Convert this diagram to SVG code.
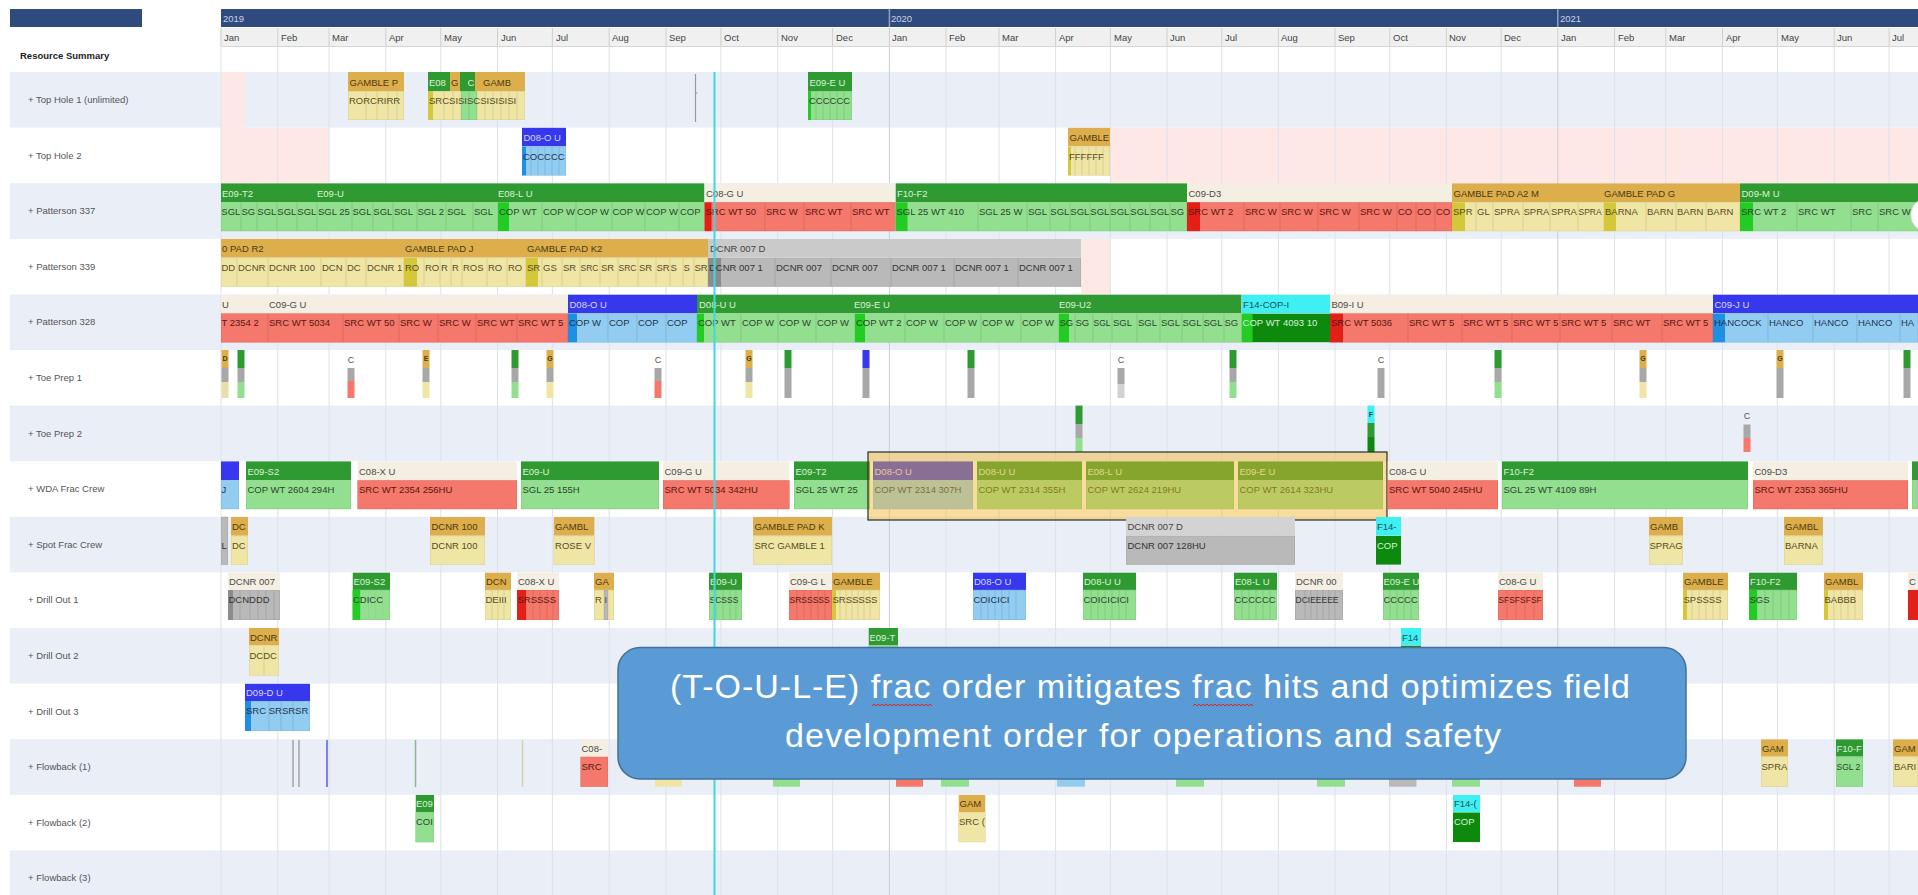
<svg xmlns="http://www.w3.org/2000/svg" width="1918" height="895" viewBox="0 0 1918 895">
<style>
text{font-family:"Liberation Sans",Arial,sans-serif}
.c text{font-size:9.5px}
.c text.sm{font-size:8.5px}
.c rect{stroke-width:1}
.dg rect{fill:#2f9a32}.dg text{fill:#dcf2d4}
.lg rect{fill:#93df90;stroke:#80c97d}.lg text{fill:#2a452a}
.bb rect{fill:#f4efe2}.bb text{fill:#4a4a4a}
.sa rect{fill:#f4786b;stroke:#df6a5e}.sa text{fill:#5a170f}
.or rect{fill:#dcae4c}.or text{fill:#4c390e}
.py rect{fill:#efe6a6;stroke:#d9cf90}.py text{fill:#574b1e}
.bl rect{fill:#3737ee}.bl text{fill:#d6dbff}
.lb rect{fill:#92ccf1;stroke:#7cb7de}.lb text{fill:#1d3450}
.gy rect{fill:#cacaca}.gy text{fill:#444}
.gd rect{fill:#b9b9b9;stroke:#a5a5a5}.gd text{fill:#333}
.cy rect{fill:#3ff0f3}.cy text{fill:#10505a}
.dk rect{fill:#0d890d}.dk text{fill:#d6f4d6}
.c rect.s{stroke:none}
.c .sg{fill:#22cc22}.c .sr{fill:#e32018}.c .so{fill:#d4c83a}.c .sb{fill:#1e8fe2}.c .sk{fill:#8c8c8c}
.lbl{font-size:9.5px;fill:#555}
.mo{font-size:9.5px;fill:#444}
.yr{font-size:9.5px;fill:#c9d3ea}
.mk{font-size:7px;font-weight:bold;fill:#4c390e;text-anchor:middle}
.mc{font-size:9px;fill:#555;text-anchor:middle}
.band{fill:#e9eef7}
.pink{fill:#fde8e5}
.gray{fill:#a8a8a8}
</style>
<rect width="1918" height="895" fill="#fff"/>
<g id="row-bands">
<rect class="band" x="10" y="72" width="1908" height="55.6"/>
<rect class="band" x="10" y="183.2" width="1908" height="55.6"/>
<rect class="band" x="10" y="294.4" width="1908" height="55.6"/>
<rect class="band" x="10" y="405.6" width="1908" height="55.6"/>
<rect class="band" x="10" y="516.8" width="1908" height="55.6"/>
<rect class="band" x="10" y="628" width="1908" height="55.6"/>
<rect class="band" x="10" y="739.2" width="1908" height="55.6"/>
<rect class="band" x="10" y="850.4" width="1908" height="44.6"/>
<rect class="pink" x="221" y="72" width="24" height="55.6"/>
<rect class="pink" x="221" y="127.6" width="108" height="55.6"/>
<rect class="pink" x="1110" y="127.6" width="808" height="55.6"/>
<rect class="pink" x="1081" y="238.8" width="29" height="55.6"/>
</g>
<g id="grid">
<path d="M221 28V895M277.8 28V895M329.1 28V895M385.8 28V895M440.8 28V895M497.5 28V895M552.4 28V895M609.2 28V895M666 28V895M720.9 28V895M777.7 28V895M832.6 28V895M946 28V895M999 28V895M1055.6 28V895M1110.4 28V895M1167 28V895M1221.8 28V895M1278.4 28V895M1335 28V895M1389.8 28V895M1446.4 28V895M1501.2 28V895M1614.6 28V895M1665.8 28V895M1722.5 28V895M1777.4 28V895M1834.2 28V895M1889.1 28V895" stroke="#dde2ea" stroke-width="1" fill="none"/>
<path d="M889.4 28V895M1557.8 28V895" stroke="#c9ced8" stroke-width="1" fill="none"/>
</g>
<g id="header">
<rect x="10" y="9" width="132" height="18" fill="#2f4a7c"/>
<rect x="221" y="9" width="1697" height="18" fill="#2f4a7c"/>
<path d="M889.4 9V27M1557.8 9V27" stroke="#8ea1c6" stroke-width="1.5"/>
<text class="yr" x="223" y="22">2019</text>
<text class="yr" x="891" y="22">2020</text>
<text class="yr" x="1560" y="22">2021</text>
<rect x="221" y="28" width="1697" height="18" fill="#f0f0f0"/>
<path d="M221 46.5H1918" stroke="#d6d6d6"/>
<path d="M221 28V46M277.8 28V46M329.1 28V46M385.8 28V46M440.8 28V46M497.5 28V46M552.4 28V46M609.2 28V46M666 28V46M720.9 28V46M777.7 28V46M832.6 28V46M889.4 28V46M946 28V46M999 28V46M1055.6 28V46M1110.4 28V46M1167 28V46M1221.8 28V46M1278.4 28V46M1335 28V46M1389.8 28V46M1446.4 28V46M1501.2 28V46M1557.8 28V46M1614.6 28V46M1665.8 28V46M1722.5 28V46M1777.4 28V46M1834.2 28V46M1889.1 28V46" stroke="#cfcfcf"/>
<text class="mo" x="224" y="41">Jan</text><text class="mo" x="281" y="41">Feb</text><text class="mo" x="332" y="41">Mar</text><text class="mo" x="389" y="41">Apr</text><text class="mo" x="444" y="41">May</text><text class="mo" x="501" y="41">Jun</text><text class="mo" x="556" y="41">Jul</text><text class="mo" x="612" y="41">Aug</text><text class="mo" x="669" y="41">Sep</text><text class="mo" x="724" y="41">Oct</text><text class="mo" x="781" y="41">Nov</text><text class="mo" x="836" y="41">Dec</text>
<text class="mo" x="892" y="41">Jan</text><text class="mo" x="949" y="41">Feb</text><text class="mo" x="1002" y="41">Mar</text><text class="mo" x="1059" y="41">Apr</text><text class="mo" x="1114" y="41">May</text><text class="mo" x="1170" y="41">Jun</text><text class="mo" x="1225" y="41">Jul</text><text class="mo" x="1281" y="41">Aug</text><text class="mo" x="1338" y="41">Sep</text><text class="mo" x="1393" y="41">Oct</text><text class="mo" x="1449" y="41">Nov</text><text class="mo" x="1504" y="41">Dec</text>
<text class="mo" x="1561" y="41">Jan</text><text class="mo" x="1618" y="41">Feb</text><text class="mo" x="1669" y="41">Mar</text><text class="mo" x="1726" y="41">Apr</text><text class="mo" x="1781" y="41">May</text><text class="mo" x="1837" y="41">Jun</text><text class="mo" x="1892" y="41">Jul</text>
<text x="20" y="59" font-size="9.5" font-weight="bold" fill="#222">Resource Summary</text>
</g>
<g id="row-labels">
<text class="lbl" x="28" y="103">+ Top Hole 1 (unlimited)</text>
<text class="lbl" x="28" y="158.6">+ Top Hole 2</text>
<text class="lbl" x="28" y="214.2">+ Patterson 337</text>
<text class="lbl" x="28" y="269.8">+ Patterson 339</text>
<text class="lbl" x="28" y="325.4">+ Patterson 328</text>
<text class="lbl" x="28" y="381">+ Toe Prep 1</text>
<text class="lbl" x="28" y="436.6">+ Toe Prep 2</text>
<text class="lbl" x="28" y="492.2">+ WDA Frac Crew</text>
<text class="lbl" x="28" y="547.8">+ Spot Frac Crew</text>
<text class="lbl" x="28" y="603.4">+ Drill Out 1</text>
<text class="lbl" x="28" y="659">+ Drill Out 2</text>
<text class="lbl" x="28" y="714.6">+ Drill Out 3</text>
<text class="lbl" x="28" y="770.2">+ Flowback (1)</text>
<text class="lbl" x="28" y="825.8">+ Flowback (2)</text>
<text class="lbl" x="28" y="881.4">+ Flowback (3)</text>
</g>

<g id="top-hole-1">
<g id="th1-gamble-p">
<svg class="c or" x="348" y="72" width="56" height="19"><rect width="100%" height="100%"/><text x="1.5" y="13.5">GAMBLE P</text></svg>
<svg class="c py" x="348" y="91" width="18" height="29"><rect width="100%" height="100%"/></svg>
<svg class="c py" x="366" y="91" width="11" height="29"><rect width="100%" height="100%"/></svg>
<svg class="c py" x="377" y="91" width="11" height="29"><rect width="100%" height="100%"/></svg>
<svg class="c py" x="388" y="91" width="9" height="29"><rect width="100%" height="100%"/></svg>
<svg class="c py" x="397" y="91" width="7" height="29"><rect width="100%" height="100%"/></svg>
<svg class="c py" x="348" y="91" width="56" height="29"><text x="1" y="13">RORCRIRR</text></svg>
</g>
<g id="th1-group">
<svg class="c dg" x="428" y="72" width="22" height="19"><rect width="100%" height="100%"/><text x="1" y="13.5">E08</text></svg>
<svg class="c or" x="450" y="72" width="10" height="19"><rect width="100%" height="100%"/><text x="1" y="13.5">G</text></svg>
<svg class="c dg" x="460" y="72" width="7" height="19"><rect width="100%" height="100%"/></svg>
<svg class="c dg" x="467" y="72" width="8" height="19"><rect width="100%" height="100%"/><text x="0.5" y="13.5">C</text></svg>
<svg class="c or" x="475" y="72" width="7" height="19"><rect width="100%" height="100%"/></svg>
<svg class="c or" x="482" y="72" width="43" height="19"><rect width="100%" height="100%"/><text x="1" y="13.5">GAMB</text></svg>
<svg class="c py" x="428" y="91" width="16" height="29"><rect width="100%" height="100%"/><rect class="s so" width="5" height="100%"/></svg>
<svg class="c py" x="444" y="91" width="9" height="29"><rect width="100%" height="100%"/></svg>
<svg class="c py" x="453" y="91" width="8" height="29"><rect width="100%" height="100%"/></svg>
<svg class="c lg" x="461" y="91" width="8" height="29"><rect width="100%" height="100%"/></svg>
<svg class="c lg" x="469" y="91" width="8" height="29"><rect width="100%" height="100%"/></svg>
<svg class="c py" x="477" y="91" width="8" height="29"><rect width="100%" height="100%"/></svg>
<svg class="c py" x="485" y="91" width="8" height="29"><rect width="100%" height="100%"/></svg>
<svg class="c py" x="493" y="91" width="8" height="29"><rect width="100%" height="100%"/></svg>
<svg class="c py" x="501" y="91" width="8" height="29"><rect width="100%" height="100%"/></svg>
<svg class="c py" x="509" y="91" width="8" height="29"><rect width="100%" height="100%"/></svg>
<svg class="c py" x="517" y="91" width="8" height="29"><rect width="100%" height="100%"/></svg>
<svg class="c py" x="428" y="91" width="97" height="29"><text x="1" y="13">SRCSISISCSISISISI</text></svg>
</g>
<path d="M695.5 74V122M695.5 93h2" stroke="#9a9a9a" stroke-width="1.2"/>
<g id="th1-e09-e-u">
<svg class="c dg" x="808" y="72" width="44" height="19"><rect width="100%" height="100%"/><text x="1.5" y="13.5">E09-E U</text></svg>
<svg class="c lg" x="808" y="91" width="8" height="29"><rect width="100%" height="100%"/><rect class="s sg" width="3" height="100%"/></svg>
<svg class="c lg" x="816" y="91" width="7" height="29"><rect width="100%" height="100%"/></svg>
<svg class="c lg" x="823" y="91" width="7" height="29"><rect width="100%" height="100%"/></svg>
<svg class="c lg" x="830" y="91" width="7" height="29"><rect width="100%" height="100%"/></svg>
<svg class="c lg" x="837" y="91" width="7" height="29"><rect width="100%" height="100%"/></svg>
<svg class="c lg" x="844" y="91" width="8" height="29"><rect width="100%" height="100%"/></svg>
<svg class="c lg" x="808" y="91" width="44" height="29"><text x="1" y="13">CCCCCC</text></svg>
</g>
</g>

<g id="top-hole-2">
<g id="th2-d08-o-u">
<svg class="c bl" x="522" y="127.6" width="44" height="19"><rect width="100%" height="100%"/><text x="1.5" y="13.5">D08-O U</text></svg>
<svg class="c lb" x="522" y="146.6" width="9" height="29"><rect width="100%" height="100%"/><rect class="s sb" width="4" height="100%"/></svg>
<svg class="c lb" x="531" y="146.6" width="7" height="29"><rect width="100%" height="100%"/></svg>
<svg class="c lb" x="538" y="146.6" width="7" height="29"><rect width="100%" height="100%"/></svg>
<svg class="c lb" x="545" y="146.6" width="7" height="29"><rect width="100%" height="100%"/></svg>
<svg class="c lb" x="552" y="146.6" width="7" height="29"><rect width="100%" height="100%"/></svg>
<svg class="c lb" x="559" y="146.6" width="7" height="29"><rect width="100%" height="100%"/></svg>
<svg class="c lb" x="522" y="146.6" width="44" height="29"><text x="1" y="13">COCCCC</text></svg>
</g>
<g id="th2-gamble">
<svg class="c or" x="1068" y="127.6" width="42" height="19"><rect width="100%" height="100%"/><text x="1.5" y="13.5">GAMBLE</text></svg>
<svg class="c py" x="1068" y="146.6" width="7" height="29"><rect width="100%" height="100%"/><rect class="s so" width="3" height="100%"/></svg>
<svg class="c py" x="1075" y="146.6" width="7" height="29"><rect width="100%" height="100%"/></svg>
<svg class="c py" x="1082" y="146.6" width="7" height="29"><rect width="100%" height="100%"/></svg>
<svg class="c py" x="1089" y="146.6" width="7" height="29"><rect width="100%" height="100%"/></svg>
<svg class="c py" x="1096" y="146.6" width="7" height="29"><rect width="100%" height="100%"/></svg>
<svg class="c py" x="1103" y="146.6" width="7" height="29"><rect width="100%" height="100%"/></svg>
<svg class="c py" x="1068" y="146.6" width="42" height="29"><text x="1" y="13">FFFFFF</text></svg>
</g>
</g>

<g id="patterson-337">
<svg class="c dg" x="221" y="183.2" width="483.5" height="19"><rect width="100%" height="100%"/><text x="1" y="13.5">E09-T2</text><text x="96" y="13.5">E09-U</text><text x="277" y="13.5">E08-L U</text></svg>
<svg class="c bb" x="704.5" y="183.2" width="191" height="19"><rect width="100%" height="100%"/><text x="1.5" y="13.5">C08-G U</text></svg>
<svg class="c dg" x="895.5" y="183.2" width="291.5" height="19"><rect width="100%" height="100%"/><text x="1.5" y="13.5">F10-F2</text></svg>
<svg class="c bb" x="1187" y="183.2" width="265" height="19"><rect width="100%" height="100%"/><text x="1.5" y="13.5">C09-D3</text></svg>
<svg class="c or" x="1452" y="183.2" width="288" height="19"><rect width="100%" height="100%"/><text x="1.5" y="13.5">GAMBLE PAD A2 M</text><text x="152" y="13.5">GAMBLE PAD G</text></svg>
<svg class="c dg" x="1740" y="183.2" width="178" height="19"><rect width="100%" height="100%"/><text x="1.5" y="13.5">D09-M U</text></svg>
<svg class="c lg" x="221" y="202.2" width="20" height="29"><rect width="100%" height="100%"/><text x="0.3" y="13">SGL</text></svg>
<svg class="c lg" x="241" y="202.2" width="16" height="29"><rect width="100%" height="100%"/><text x="0.5" y="13">SG</text></svg>
<svg class="c lg" x="257" y="202.2" width="20" height="29"><rect width="100%" height="100%"/><text x="0.3" y="13">SGL</text></svg>
<svg class="c lg" x="277" y="202.2" width="20" height="29"><rect width="100%" height="100%"/><text x="0.3" y="13">SGL</text></svg>
<svg class="c lg" x="297" y="202.2" width="20" height="29"><rect width="100%" height="100%"/><text x="0.3" y="13">SGL</text></svg>
<svg class="c lg" x="317" y="202.2" width="35" height="29"><rect width="100%" height="100%"/><text x="1" y="13">SGL 25</text></svg>
<svg class="c lg" x="352" y="202.2" width="21" height="29"><rect width="100%" height="100%"/><text x="0.5" y="13">SGL</text></svg>
<svg class="c lg" x="373" y="202.2" width="20" height="29"><rect width="100%" height="100%"/><text x="0.3" y="13">SGL</text></svg>
<svg class="c lg" x="393" y="202.2" width="24" height="29"><rect width="100%" height="100%"/><text x="1" y="13">SGL</text></svg>
<svg class="c lg" x="417" y="202.2" width="29" height="29"><rect width="100%" height="100%"/><text x="0.5" y="13">SGL 2</text></svg>
<svg class="c lg" x="446" y="202.2" width="27" height="29"><rect width="100%" height="100%"/><text x="1" y="13">SGL</text></svg>
<svg class="c lg" x="473" y="202.2" width="25" height="29"><rect width="100%" height="100%"/><text x="1" y="13">SGL</text></svg>
<svg class="c lg" x="498" y="202.2" width="44" height="29"><rect width="100%" height="100%"/><rect class="s sg" width="11" height="100%"/><text x="1" y="13">COP WT</text></svg>
<svg class="c lg" x="542" y="202.2" width="34" height="29"><rect width="100%" height="100%"/><text x="1" y="13">COP W</text></svg>
<svg class="c lg" x="576" y="202.2" width="36" height="29"><rect width="100%" height="100%"/><text x="1" y="13">COP W</text></svg>
<svg class="c lg" x="612" y="202.2" width="33" height="29"><rect width="100%" height="100%"/><text x="0.5" y="13">COP W</text></svg>
<svg class="c lg" x="645" y="202.2" width="34" height="29"><rect width="100%" height="100%"/><text x="1" y="13">COP W</text></svg>
<svg class="c lg" x="679" y="202.2" width="25.5" height="29"><rect width="100%" height="100%"/><text x="1" y="13">COP</text></svg>
<svg class="c sa" x="704.5" y="202.2" width="60.5" height="29"><rect width="100%" height="100%"/><rect class="s sr" width="7" height="100%"/><text x="1" y="13">SRC WT 50</text></svg>
<svg class="c sa" x="765" y="202.2" width="39" height="29"><rect width="100%" height="100%"/><text x="1" y="13">SRC W</text></svg>
<svg class="c sa" x="804" y="202.2" width="47" height="29"><rect width="100%" height="100%"/><text x="1" y="13">SRC WT</text></svg>
<svg class="c sa" x="851" y="202.2" width="44.5" height="29"><rect width="100%" height="100%"/><text x="1" y="13">SRC WT</text></svg>
<svg class="c lg" x="895.5" y="202.2" width="82.5" height="29"><rect width="100%" height="100%"/><rect class="s sg" width="12" height="100%"/><text x="1" y="13">SGL 25 WT 410</text></svg>
<svg class="c lg" x="978" y="202.2" width="49" height="29"><rect width="100%" height="100%"/><text x="1" y="13">SGL 25 W</text></svg>
<svg class="c lg" x="1027" y="202.2" width="23" height="29"><rect width="100%" height="100%"/><text x="1" y="13">SGL</text></svg>
<svg class="c lg" x="1050" y="202.2" width="20" height="29"><rect width="100%" height="100%"/><text x="0.3" y="13">SGL</text></svg>
<svg class="c lg" x="1070" y="202.2" width="20" height="29"><rect width="100%" height="100%"/><text x="0.3" y="13">SGL</text></svg>
<svg class="c lg" x="1090" y="202.2" width="20" height="29"><rect width="100%" height="100%"/><text x="0.3" y="13">SGL</text></svg>
<svg class="c lg" x="1110" y="202.2" width="20" height="29"><rect width="100%" height="100%"/><text x="0.3" y="13">SGL</text></svg>
<svg class="c lg" x="1130" y="202.2" width="20" height="29"><rect width="100%" height="100%"/><text x="0.3" y="13">SGL</text></svg>
<svg class="c lg" x="1150" y="202.2" width="20" height="29"><rect width="100%" height="100%"/><text x="0.3" y="13">SGL</text></svg>
<svg class="c lg" x="1170" y="202.2" width="17" height="29"><rect width="100%" height="100%"/><text x="0.5" y="13">SG</text></svg>
<svg class="c sa" x="1187" y="202.2" width="57" height="29"><rect width="100%" height="100%"/><rect class="s sr" width="13" height="100%"/><text x="1" y="13">SRC WT 2</text></svg>
<svg class="c sa" x="1244" y="202.2" width="36" height="29"><rect width="100%" height="100%"/><text x="1" y="13">SRC W</text></svg>
<svg class="c sa" x="1280" y="202.2" width="38" height="29"><rect width="100%" height="100%"/><text x="1" y="13">SRC W</text></svg>
<svg class="c sa" x="1318" y="202.2" width="41" height="29"><rect width="100%" height="100%"/><text x="1" y="13">SRC W</text></svg>
<svg class="c sa" x="1359" y="202.2" width="38" height="29"><rect width="100%" height="100%"/><text x="1" y="13">SRC W</text></svg>
<svg class="c sa" x="1397" y="202.2" width="19" height="29"><rect width="100%" height="100%"/><text x="1" y="13">CO</text></svg>
<svg class="c sa" x="1416" y="202.2" width="19" height="29"><rect width="100%" height="100%"/><text x="1" y="13">CO</text></svg>
<svg class="c sa" x="1435" y="202.2" width="17" height="29"><rect width="100%" height="100%"/><text x="1" y="13">CO</text></svg>
<svg class="c py" x="1452" y="202.2" width="24" height="29"><rect width="100%" height="100%"/><rect class="s so" width="13" height="100%"/><text x="1" y="13">SPR</text></svg>
<svg class="c py" x="1476" y="202.2" width="17" height="29"><rect width="100%" height="100%"/><text x="1" y="13">GL</text></svg>
<svg class="c py" x="1493" y="202.2" width="30" height="29"><rect width="100%" height="100%"/><text x="1" y="13">SPRA</text></svg>
<svg class="c py" x="1523" y="202.2" width="27" height="29"><rect width="100%" height="100%"/><text x="0.5" y="13">SPRA</text></svg>
<svg class="c py" x="1550" y="202.2" width="28" height="29"><rect width="100%" height="100%"/><text x="1" y="13">SPRA</text></svg>
<svg class="c py" x="1578" y="202.2" width="26" height="29"><rect width="100%" height="100%"/><text class="sm" x="0.5" y="13">SPRA</text></svg>
<svg class="c py" x="1604" y="202.2" width="42" height="29"><rect width="100%" height="100%"/><rect class="s so" width="12" height="100%"/><text x="1" y="13">BARNA</text></svg>
<svg class="c py" x="1646" y="202.2" width="30" height="29"><rect width="100%" height="100%"/><text x="1" y="13">BARN</text></svg>
<svg class="c py" x="1676" y="202.2" width="30" height="29"><rect width="100%" height="100%"/><text x="1" y="13">BARN</text></svg>
<svg class="c py" x="1706" y="202.2" width="34" height="29"><rect width="100%" height="100%"/><text x="1" y="13">BARN</text></svg>
<svg class="c lg" x="1740" y="202.2" width="57" height="29"><rect width="100%" height="100%"/><rect class="s sg" width="13" height="100%"/><text x="1" y="13">SRC WT 2</text></svg>
<svg class="c lg" x="1797" y="202.2" width="54" height="29"><rect width="100%" height="100%"/><text x="1" y="13">SRC WT</text></svg>
<svg class="c lg" x="1851" y="202.2" width="27" height="29"><rect width="100%" height="100%"/><text x="1" y="13">SRC</text></svg>
<svg class="c lg" x="1878" y="202.2" width="40" height="29"><rect width="100%" height="100%"/><text x="1" y="13">SRC W</text></svg>
<circle cx="1928" cy="215" r="17" fill="#fff" stroke="#e2e2e2"/>
</g>

<g id="patterson-339">
<svg class="c or" x="221" y="238.8" width="487" height="19"><rect width="100%" height="100%"/><text x="1" y="13.5">0 PAD R2</text><text x="184" y="13.5">GAMBLE PAD J</text><text x="306" y="13.5">GAMBLE PAD K2</text></svg>
<svg class="c gy" x="708" y="238.8" width="373" height="19"><rect width="100%" height="100%"/><text x="2" y="13.5">DCNR 007 D</text></svg>
<svg class="c py" x="221" y="257.8" width="16" height="29"><rect width="100%" height="100%"/><text x="0.5" y="13">DD</text></svg>
<svg class="c py" x="237" y="257.8" width="31" height="29"><rect width="100%" height="100%"/><text x="1" y="13">DCNR</text></svg>
<svg class="c py" x="268" y="257.8" width="53" height="29"><rect width="100%" height="100%"/><text x="1" y="13">DCNR 100</text></svg>
<svg class="c py" x="321" y="257.8" width="25" height="29"><rect width="100%" height="100%"/><text x="1" y="13">DCN</text></svg>
<svg class="c py" x="346" y="257.8" width="20" height="29"><rect width="100%" height="100%"/><text x="1" y="13">DC</text></svg>
<svg class="c py" x="366" y="257.8" width="38" height="29"><rect width="100%" height="100%"/><text x="1" y="13">DCNR 1</text></svg>
<svg class="c py" x="404" y="257.8" width="20" height="29"><rect width="100%" height="100%"/><rect class="s so" width="13" height="100%"/><text x="1" y="13">RO</text></svg>
<svg class="c py" x="424" y="257.8" width="16" height="29"><rect width="100%" height="100%"/><text x="1" y="13">RO</text></svg>
<svg class="c py" x="440" y="257.8" width="11" height="29"><rect width="100%" height="100%"/><text x="1" y="13">R</text></svg>
<svg class="c py" x="451" y="257.8" width="11" height="29"><rect width="100%" height="100%"/><text x="1" y="13">R</text></svg>
<svg class="c py" x="462" y="257.8" width="25" height="29"><rect width="100%" height="100%"/><text x="1" y="13">ROS</text></svg>
<svg class="c py" x="487" y="257.8" width="20" height="29"><rect width="100%" height="100%"/><text x="1" y="13">RO</text></svg>
<svg class="c py" x="507" y="257.8" width="19" height="29"><rect width="100%" height="100%"/><text x="1" y="13">RO</text></svg>
<svg class="c py" x="526" y="257.8" width="16" height="29"><rect width="100%" height="100%"/><rect class="s so" width="12" height="100%"/><text x="1" y="13">SR</text></svg>
<svg class="c py" x="542" y="257.8" width="20" height="29"><rect width="100%" height="100%"/><text x="1" y="13">GS</text></svg>
<svg class="c py" x="562" y="257.8" width="18" height="29"><rect width="100%" height="100%"/><text x="1" y="13">SR</text></svg>
<svg class="c py" x="580" y="257.8" width="20" height="29"><rect width="100%" height="100%"/><text class="sm" x="0.5" y="13">SRC</text></svg>
<svg class="c py" x="600" y="257.8" width="18" height="29"><rect width="100%" height="100%"/><text x="1" y="13">SR</text></svg>
<svg class="c py" x="618" y="257.8" width="20" height="29"><rect width="100%" height="100%"/><text class="sm" x="0.5" y="13">SRC</text></svg>
<svg class="c py" x="638" y="257.8" width="18" height="29"><rect width="100%" height="100%"/><text x="1" y="13">SR</text></svg>
<svg class="c py" x="656" y="257.8" width="14" height="29"><rect width="100%" height="100%"/><text x="0.5" y="13">SR</text></svg>
<svg class="c py" x="670" y="257.8" width="13" height="29"><rect width="100%" height="100%"/><text x="0.5" y="13">S</text></svg>
<svg class="c py" x="683" y="257.8" width="11" height="29"><rect width="100%" height="100%"/><text x="0.5" y="13">S</text></svg>
<svg class="c py" x="694" y="257.8" width="14" height="29"><rect width="100%" height="100%"/><text x="0.5" y="13">SR</text></svg>
<svg class="c gd" x="708" y="257.8" width="67" height="29"><rect width="100%" height="100%"/><rect class="s sk" width="13" height="100%"/><text x="1" y="13">DCNR 007 1</text></svg>
<svg class="c gd" x="775" y="257.8" width="56" height="29"><rect width="100%" height="100%"/><text x="1" y="13">DCNR 007</text></svg>
<svg class="c gd" x="831" y="257.8" width="60" height="29"><rect width="100%" height="100%"/><text x="1" y="13">DCNR 007</text></svg>
<svg class="c gd" x="891" y="257.8" width="63" height="29"><rect width="100%" height="100%"/><text x="1" y="13">DCNR 007 1</text></svg>
<svg class="c gd" x="954" y="257.8" width="64" height="29"><rect width="100%" height="100%"/><text x="1" y="13">DCNR 007 1</text></svg>
<svg class="c gd" x="1018" y="257.8" width="63" height="29"><rect width="100%" height="100%"/><text x="1" y="13">DCNR 007 1</text></svg>
</g>

<g id="patterson-328">
<svg class="c bb" x="221" y="294.4" width="347" height="19"><rect width="100%" height="100%"/><text x="1" y="13.5">U</text><text x="48" y="13.5">C09-G U</text></svg>
<svg class="c bl" x="568" y="294.4" width="129" height="19"><rect width="100%" height="100%"/><text x="1.5" y="13.5">D08-O U</text></svg>
<svg class="c dg" x="697" y="294.4" width="544.6" height="19"><rect width="100%" height="100%"/><text x="2" y="13.5">D08-U U</text><text x="157" y="13.5">E09-E U</text><text x="362" y="13.5">E09-U2</text></svg>
<svg class="c cy" x="1241.6" y="294.4" width="88.4" height="19"><rect width="100%" height="100%"/><text x="1.5" y="13.5">F14-COP-I</text></svg>
<svg class="c bb" x="1330" y="294.4" width="383" height="19"><rect width="100%" height="100%"/><text x="1.5" y="13.5">B09-I U</text></svg>
<svg class="c bl" x="1713" y="294.4" width="205" height="19"><rect width="100%" height="100%"/><text x="1.5" y="13.5">C09-J U</text></svg>
<svg class="c sa" x="221" y="313.4" width="47" height="29"><rect width="100%" height="100%"/><text x="0.5" y="13">T 2354 2</text></svg>
<svg class="c sa" x="268" y="313.4" width="75" height="29"><rect width="100%" height="100%"/><text x="1" y="13">SRC WT 5034</text></svg>
<svg class="c sa" x="343" y="313.4" width="56" height="29"><rect width="100%" height="100%"/><text x="1" y="13">SRC WT 50</text></svg>
<svg class="c sa" x="399" y="313.4" width="39" height="29"><rect width="100%" height="100%"/><text x="1" y="13">SRC W</text></svg>
<svg class="c sa" x="438" y="313.4" width="38" height="29"><rect width="100%" height="100%"/><text x="1" y="13">SRC W</text></svg>
<svg class="c sa" x="476" y="313.4" width="41" height="29"><rect width="100%" height="100%"/><text x="1" y="13">SRC WT</text></svg>
<svg class="c sa" x="517" y="313.4" width="51" height="29"><rect width="100%" height="100%"/><text x="1" y="13">SRC WT 5</text></svg>
<svg class="c lb" x="568" y="313.4" width="40" height="29"><rect width="100%" height="100%"/><rect class="s sb" width="9" height="100%"/><text x="1" y="13">COP W</text></svg>
<svg class="c lb" x="608" y="313.4" width="29" height="29"><rect width="100%" height="100%"/><text x="1" y="13">COP</text></svg>
<svg class="c lb" x="637" y="313.4" width="29" height="29"><rect width="100%" height="100%"/><text x="1" y="13">COP</text></svg>
<svg class="c lb" x="666" y="313.4" width="31" height="29"><rect width="100%" height="100%"/><text x="1" y="13">COP</text></svg>
<svg class="c lg" x="697" y="313.4" width="44" height="29"><rect width="100%" height="100%"/><rect class="s sg" width="7" height="100%"/><text x="1" y="13">COP WT</text></svg>
<svg class="c lg" x="741" y="313.4" width="37" height="29"><rect width="100%" height="100%"/><text x="1" y="13">COP W</text></svg>
<svg class="c lg" x="778" y="313.4" width="38" height="29"><rect width="100%" height="100%"/><text x="1" y="13">COP W</text></svg>
<svg class="c lg" x="816" y="313.4" width="39" height="29"><rect width="100%" height="100%"/><text x="1" y="13">COP W</text></svg>
<svg class="c lg" x="855" y="313.4" width="50" height="29"><rect width="100%" height="100%"/><rect class="s sg" width="10" height="100%"/><text x="1" y="13">COP WT 2</text></svg>
<svg class="c lg" x="905" y="313.4" width="39" height="29"><rect width="100%" height="100%"/><text x="1" y="13">COP W</text></svg>
<svg class="c lg" x="944" y="313.4" width="37" height="29"><rect width="100%" height="100%"/><text x="1" y="13">COP W</text></svg>
<svg class="c lg" x="981" y="313.4" width="40" height="29"><rect width="100%" height="100%"/><text x="1" y="13">COP W</text></svg>
<svg class="c lg" x="1021" y="313.4" width="38" height="29"><rect width="100%" height="100%"/><text x="1" y="13">COP W</text></svg>
<svg class="c lg" x="1059" y="313.4" width="16" height="29"><rect width="100%" height="100%"/><rect class="s sg" width="10" height="100%"/><text x="0.5" y="13">SG</text></svg>
<svg class="c lg" x="1075" y="313.4" width="18" height="29"><rect width="100%" height="100%"/><text x="0.5" y="13">SG</text></svg>
<svg class="c lg" x="1093" y="313.4" width="19" height="29"><rect width="100%" height="100%"/><text class="sm" x="0.5" y="13">SGL</text></svg>
<svg class="c lg" x="1112" y="313.4" width="25" height="29"><rect width="100%" height="100%"/><text x="1" y="13">SGL</text></svg>
<svg class="c lg" x="1137" y="313.4" width="23" height="29"><rect width="100%" height="100%"/><text x="1" y="13">SGL</text></svg>
<svg class="c lg" x="1160" y="313.4" width="22" height="29"><rect width="100%" height="100%"/><text x="1" y="13">SGL</text></svg>
<svg class="c lg" x="1182" y="313.4" width="21" height="29"><rect width="100%" height="100%"/><text x="0.5" y="13">SGL</text></svg>
<svg class="c lg" x="1203" y="313.4" width="21" height="29"><rect width="100%" height="100%"/><text x="0.5" y="13">SGL</text></svg>
<svg class="c lg" x="1224" y="313.4" width="17.6" height="29"><rect width="100%" height="100%"/><text x="0.5" y="13">SG</text></svg>
<svg class="c dk" x="1241.6" y="313.4" width="88.4" height="29"><rect width="100%" height="100%"/><rect class="s sg" width="11" height="100%"/><text x="1" y="13">COP WT 4093 10</text></svg>
<svg class="c sa" x="1330" y="313.4" width="78" height="29"><rect width="100%" height="100%"/><rect class="s sr" width="13" height="100%"/><text x="1" y="13">SRC WT 5036</text></svg>
<svg class="c sa" x="1408" y="313.4" width="54" height="29"><rect width="100%" height="100%"/><text x="1" y="13">SRC WT 5</text></svg>
<svg class="c sa" x="1462" y="313.4" width="50" height="29"><rect width="100%" height="100%"/><text x="1" y="13">SRC WT 5</text></svg>
<svg class="c sa" x="1512" y="313.4" width="48" height="29"><rect width="100%" height="100%"/><text x="1" y="13">SRC WT 5</text></svg>
<svg class="c sa" x="1560" y="313.4" width="52" height="29"><rect width="100%" height="100%"/><text x="1" y="13">SRC WT 5</text></svg>
<svg class="c sa" x="1612" y="313.4" width="50" height="29"><rect width="100%" height="100%"/><text x="1" y="13">SRC WT</text></svg>
<svg class="c sa" x="1662" y="313.4" width="51" height="29"><rect width="100%" height="100%"/><text x="1" y="13">SRC WT 5</text></svg>
<svg class="c lb" x="1713" y="313.4" width="55" height="29"><rect width="100%" height="100%"/><rect class="s sb" width="12" height="100%"/><text x="1" y="13">HANCOCK</text></svg>
<svg class="c lb" x="1768" y="313.4" width="45" height="29"><rect width="100%" height="100%"/><text x="1" y="13">HANCO</text></svg>
<svg class="c lb" x="1813" y="313.4" width="44" height="29"><rect width="100%" height="100%"/><text x="1" y="13">HANCO</text></svg>
<svg class="c lb" x="1857" y="313.4" width="43" height="29"><rect width="100%" height="100%"/><text x="1" y="13">HANCO</text></svg>
<svg class="c lb" x="1900" y="313.4" width="18" height="29"><rect width="100%" height="100%"/><text x="1" y="13">HA</text></svg>
</g>

<g id="toe-prep-1">
<g><rect x="221.5" y="350" width="7" height="18" fill="#dcae4c"/><text class="mk" x="225" y="361">D</text><rect class="gray" x="221.5" y="368" width="7" height="14"/><rect x="221.5" y="382" width="7" height="16" fill="#e6dfa8"/></g>
<g><rect x="237.5" y="350" width="7" height="18" fill="#2f9a32"/><rect class="gray" x="237.5" y="368" width="7" height="14"/><rect x="237.5" y="382" width="7" height="16" fill="#93df90"/></g>
<g><text class="mc" x="351" y="363">C</text><rect class="gray" x="347.5" y="368" width="7" height="13"/><rect x="347.5" y="381" width="7" height="17" fill="#f4786b"/></g>
<g><rect x="422.5" y="350" width="7" height="18" fill="#dcae4c"/><text class="mk" x="426" y="361">E</text><rect class="gray" x="422.5" y="368" width="7" height="14"/><rect x="422.5" y="382" width="7" height="16" fill="#efe6a6"/></g>
<g><rect x="511.5" y="350" width="7" height="18" fill="#2f9a32"/><rect class="gray" x="511.5" y="368" width="7" height="14"/><rect x="511.5" y="382" width="7" height="16" fill="#93df90"/></g>
<g><rect x="546.5" y="350" width="7" height="18" fill="#dcae4c"/><text class="mk" x="550" y="361">G</text><rect class="gray" x="546.5" y="368" width="7" height="14"/><rect x="546.5" y="382" width="7" height="16" fill="#efe6a6"/></g>
<g><text class="mc" x="658" y="363">C</text><rect class="gray" x="654.5" y="368" width="7" height="13"/><rect x="654.5" y="381" width="7" height="17" fill="#f4786b"/></g>
<g><rect x="745.5" y="350" width="7" height="18" fill="#dcae4c"/><text class="mk" x="749" y="361">G</text><rect class="gray" x="745.5" y="368" width="7" height="14"/><rect x="745.5" y="382" width="7" height="16" fill="#efe6a6"/></g>
<g><rect x="784.5" y="350" width="7" height="18" fill="#2f9a32"/><rect class="gray" x="784.5" y="368" width="7" height="30"/></g>
<g><rect x="862.5" y="350" width="7" height="18" fill="#3737ee"/><rect class="gray" x="862.5" y="368" width="7" height="30"/></g>
<g><rect x="967.5" y="350" width="7" height="18" fill="#2f9a32"/><rect class="gray" x="967.5" y="368" width="7" height="30"/></g>
<g><text class="mc" x="1121" y="363">C</text><rect class="gray" x="1117.5" y="368" width="7" height="16"/><rect x="1117.5" y="384" width="7" height="14" fill="#d2d2d2"/></g>
<g><rect x="1229.5" y="350" width="7" height="18" fill="#2f9a32"/><rect class="gray" x="1229.5" y="368" width="7" height="14"/><rect x="1229.5" y="382" width="7" height="16" fill="#93df90"/></g>
<g><text class="mc" x="1381" y="363">C</text><rect class="gray" x="1377.5" y="368" width="7" height="30"/></g>
<g><rect x="1494.5" y="350" width="7" height="18" fill="#2f9a32"/><rect class="gray" x="1494.5" y="368" width="7" height="14"/><rect x="1494.5" y="382" width="7" height="16" fill="#93df90"/></g>
<g><rect x="1639.5" y="350" width="7" height="18" fill="#dcae4c"/><text class="mk" x="1643" y="361">G</text><rect class="gray" x="1639.5" y="368" width="7" height="14"/><rect x="1639.5" y="382" width="7" height="16" fill="#efe6a6"/></g>
<g><rect x="1776.5" y="350" width="7" height="18" fill="#dcae4c"/><text class="mk" x="1780" y="361">G</text><rect class="gray" x="1776.5" y="368" width="7" height="30"/></g>
<g><rect x="1903.5" y="350" width="7" height="18" fill="#2f9a32"/><rect class="gray" x="1903.5" y="368" width="7" height="30"/></g>
</g>

<g id="toe-prep-2">
<g><rect x="1075.5" y="405.6" width="7" height="18.4" fill="#2f9a32"/><rect class="gray" x="1075.5" y="424" width="7" height="14"/><rect x="1075.5" y="438" width="7" height="14" fill="#93df90"/></g>
<g><rect x="1367.5" y="405.6" width="7" height="17.4" fill="#3ff0f3"/><text class="mk" x="1371" y="416.5" style="fill:#10505a">F</text><rect x="1367.5" y="423" width="7" height="14" fill="#2f9a32"/><rect x="1367.5" y="437" width="7" height="15" fill="#0d890d"/></g>
<g><text class="mc" x="1747" y="418.5">C</text><rect class="gray" x="1743.5" y="424.5" width="7" height="13.5"/><rect x="1743.5" y="438" width="7" height="14" fill="#f4786b"/></g>
</g>

<g id="wda-frac-crew">
<g id="wda-j"><svg class="c bl" x="221" y="461.2" width="18" height="19"><rect width="100%" height="100%"/></svg><svg class="c lb" x="221" y="480.2" width="18" height="29"><rect width="100%" height="100%"/><text x="0.5" y="13">J</text></svg></g>
<g id="wda-e09-s2"><svg class="c dg" x="246" y="461.2" width="105" height="19"><rect width="100%" height="100%"/><text x="1.5" y="13.5">E09-S2</text></svg><svg class="c lg" x="246" y="480.2" width="105" height="29"><rect width="100%" height="100%"/><text x="1.5" y="13">COP WT 2604 294H</text></svg></g>
<g id="wda-c08-x-u"><svg class="c bb" x="357.5" y="461.2" width="159.5" height="19"><rect width="100%" height="100%"/><text x="1.5" y="13.5">C08-X U</text></svg><svg class="c sa" x="357.5" y="480.2" width="159.5" height="29"><rect width="100%" height="100%"/><text x="1.5" y="13">SRC WT 2354 256HU</text></svg></g>
<g id="wda-e09-u"><svg class="c dg" x="521" y="461.2" width="138" height="19"><rect width="100%" height="100%"/><text x="1.5" y="13.5">E09-U</text></svg><svg class="c lg" x="521" y="480.2" width="138" height="29"><rect width="100%" height="100%"/><text x="1.5" y="13">SGL 25 155H</text></svg></g>
<g id="wda-c09-g-u"><svg class="c bb" x="663" y="461.2" width="126.5" height="19"><rect width="100%" height="100%"/><text x="1.5" y="13.5">C09-G U</text></svg><svg class="c sa" x="663" y="480.2" width="126.5" height="29"><rect width="100%" height="100%"/><text x="1.5" y="13">SRC WT 5034 342HU</text></svg></g>
<g id="wda-e09-t2"><svg class="c dg" x="794" y="461.2" width="76" height="19"><rect width="100%" height="100%"/><text x="1.5" y="13.5">E09-T2</text></svg><svg class="c lg" x="794" y="480.2" width="76" height="29"><rect width="100%" height="100%"/><text x="1.5" y="13">SGL 25 WT 25</text></svg></g>
<g id="wda-d08-o-u"><svg class="c bl" x="873" y="461.2" width="100" height="19"><rect width="100%" height="100%"/><text x="1.5" y="13.5">D08-O U</text></svg><svg class="c lb" x="873" y="480.2" width="100" height="29"><rect width="100%" height="100%"/><text x="1.5" y="13">COP WT 2314 307H</text></svg></g>
<g id="wda-d08-u-u"><svg class="c dg" x="977" y="461.2" width="105" height="19"><rect width="100%" height="100%"/><text x="1.5" y="13.5">D08-U U</text></svg><svg class="c lg" x="977" y="480.2" width="105" height="29"><rect width="100%" height="100%"/><text x="1.5" y="13">COP WT 2314 355H</text></svg></g>
<g id="wda-e08-l-u"><svg class="c dg" x="1086" y="461.2" width="148" height="19"><rect width="100%" height="100%"/><text x="1.5" y="13.5">E08-L U</text></svg><svg class="c lg" x="1086" y="480.2" width="148" height="29"><rect width="100%" height="100%"/><text x="1.5" y="13">COP WT 2624 219HU</text></svg></g>
<g id="wda-e09-e-u"><svg class="c dg" x="1238" y="461.2" width="145" height="19"><rect width="100%" height="100%"/><text x="1.5" y="13.5">E09-E U</text></svg><svg class="c lg" x="1238" y="480.2" width="145" height="29"><rect width="100%" height="100%"/><text x="1.5" y="13">COP WT 2614 323HU</text></svg></g>
<rect id="toule-highlight" x="868" y="452" width="519" height="68" fill="#f0b428" fill-opacity="0.45" stroke="#2b2b2b" stroke-width="1.2"/>
<g id="wda-c08-g-u"><svg class="c bb" x="1387.5" y="461.2" width="110.5" height="19"><rect width="100%" height="100%"/><text x="1.5" y="13.5">C08-G U</text></svg><svg class="c sa" x="1387.5" y="480.2" width="110.5" height="29"><rect width="100%" height="100%"/><text x="1.5" y="13">SRC WT 5040 245HU</text></svg></g>
<g id="wda-f10-f2"><svg class="c dg" x="1502" y="461.2" width="246" height="19"><rect width="100%" height="100%"/><text x="1.5" y="13.5">F10-F2</text></svg><svg class="c lg" x="1502" y="480.2" width="246" height="29"><rect width="100%" height="100%"/><text x="1.5" y="13">SGL 25 WT 4109 89H</text></svg></g>
<g id="wda-c09-d3"><svg class="c bb" x="1753" y="461.2" width="155" height="19"><rect width="100%" height="100%"/><text x="1.5" y="13.5">C09-D3</text></svg><svg class="c sa" x="1753" y="480.2" width="155" height="29"><rect width="100%" height="100%"/><text x="1.5" y="13">SRC WT 2353 365HU</text></svg></g>
<g id="wda-last"><svg class="c dg" x="1912" y="461.2" width="6" height="19"><rect width="100%" height="100%"/></svg><svg class="c lg" x="1912" y="480.2" width="6" height="29"><rect width="100%" height="100%"/></svg></g>
</g>

<g id="spot-frac-crew">
<g><svg class="c gd" x="221" y="516.8" width="7" height="48"><rect width="100%" height="100%"/><text x="0.5" y="32">L</text></svg></g>
<g><svg class="c or" x="231" y="516.8" width="17" height="19"><rect width="100%" height="100%"/><text x="1" y="13.5">DC</text></svg><svg class="c py" x="231" y="535.8" width="17" height="29"><rect width="100%" height="100%"/><text x="1" y="13">DC</text></svg></g>
<g><svg class="c or" x="430" y="516.8" width="55" height="19"><rect width="100%" height="100%"/><text x="1.5" y="13.5">DCNR 100</text></svg><svg class="c py" x="430" y="535.8" width="55" height="29"><rect width="100%" height="100%"/><text x="1.5" y="13">DCNR 100</text></svg></g>
<g><svg class="c or" x="553.6" y="516.8" width="41" height="19"><rect width="100%" height="100%"/><text x="1.5" y="13.5">GAMBL</text></svg><svg class="c py" x="553.6" y="535.8" width="41" height="29"><rect width="100%" height="100%"/><text x="1.5" y="13">ROSE V</text></svg></g>
<g><svg class="c or" x="753" y="516.8" width="79" height="19"><rect width="100%" height="100%"/><text x="1.5" y="13.5">GAMBLE PAD K</text></svg><svg class="c py" x="753" y="535.8" width="79" height="29"><rect width="100%" height="100%"/><text x="1.5" y="13">SRC GAMBLE 1</text></svg></g>
<g><svg class="c gy" x="1126" y="516.8" width="169" height="19"><rect width="100%" height="100%" style="fill:#d3d3d3"/><text x="1.5" y="13.5">DCNR 007 D</text></svg><svg class="c gd" x="1126" y="535.8" width="169" height="29"><rect width="100%" height="100%"/><text x="1.5" y="13">DCNR 007 128HU</text></svg></g>
<g><svg class="c cy" x="1376" y="516.8" width="25" height="19"><rect width="100%" height="100%"/><text x="1" y="13.5">F14-</text></svg><svg class="c dk" x="1376" y="535.8" width="25" height="29"><rect width="100%" height="100%"/><text x="1" y="13">COP</text></svg></g>
<g><svg class="c or" x="1649" y="516.8" width="34" height="19"><rect width="100%" height="100%"/><text x="1" y="13.5">GAMB</text></svg><svg class="c py" x="1649" y="535.8" width="34" height="29"><rect width="100%" height="100%"/><text x="0.5" y="13">SPRAG</text></svg></g>
<g><svg class="c or" x="1784" y="516.8" width="39" height="19"><rect width="100%" height="100%"/><text x="1" y="13.5">GAMBL</text></svg><svg class="c py" x="1784" y="535.8" width="39" height="29"><rect width="100%" height="100%"/><text x="1" y="13">BARNA</text></svg></g>
</g>

<g id="drill-out-1">
<g><svg class="c bb" x="228" y="572.4" width="52" height="17.5"><rect width="100%" height="100%"/><text x="1" y="12.5">DCNR 007</text></svg>
<svg class="c gd" x="228" y="589.9" width="12" height="30"><rect width="100%" height="100%"/><rect class="s sk" width="5" height="100%"/></svg><svg class="c gd" x="240" y="589.9" width="10" height="30"><rect width="100%" height="100%"/></svg><svg class="c gd" x="250" y="589.9" width="8" height="30"><rect width="100%" height="100%"/></svg><svg class="c gd" x="258" y="589.9" width="8" height="30"><rect width="100%" height="100%"/></svg><svg class="c gd" x="266" y="589.9" width="8" height="30"><rect width="100%" height="100%"/></svg><svg class="c gd" x="274" y="589.9" width="6" height="30"><rect width="100%" height="100%"/></svg>
<svg class="c gd" x="228" y="589.9" width="52" height="30"><text x="0.5" y="13">DCNDDD</text></svg></g>
<g><svg class="c dg" x="352.5" y="572.4" width="37.5" height="17.5"><rect width="100%" height="100%"/><text x="1" y="12.5">E09-S2</text></svg>
<svg class="c lg" x="352.5" y="589.9" width="8" height="30"><rect width="100%" height="100%"/><rect class="s sg" width="8" height="100%"/></svg><svg class="c lg" x="360.5" y="589.9" width="8" height="30"><rect width="100%" height="100%"/></svg><svg class="c lg" x="368.5" y="589.9" width="7" height="30"><rect width="100%" height="100%"/></svg><svg class="c lg" x="375.5" y="589.9" width="7" height="30"><rect width="100%" height="100%"/></svg><svg class="c lg" x="382.5" y="589.9" width="7.5" height="30"><rect width="100%" height="100%"/></svg>
<svg class="c lg" x="352.5" y="589.9" width="37.5" height="30"><text x="0.5" y="13">CDICC</text></svg></g>
<g><svg class="c or" x="485" y="572.4" width="26" height="17.5"><rect width="100%" height="100%"/><text x="1" y="12.5">DCN</text></svg>
<svg class="c py" x="485" y="589.9" width="7" height="30"><rect width="100%" height="100%"/></svg><svg class="c py" x="492" y="589.9" width="6" height="30"><rect width="100%" height="100%"/></svg><svg class="c py" x="498" y="589.9" width="6" height="30"><rect width="100%" height="100%"/></svg><svg class="c py" x="504" y="589.9" width="7" height="30"><rect width="100%" height="100%"/></svg>
<svg class="c py" x="485" y="589.9" width="26" height="30"><text x="0.5" y="13">DEIII</text></svg></g>
<g><svg class="c bb" x="517" y="572.4" width="42" height="17.5"><rect width="100%" height="100%"/><text x="1" y="12.5">C08-X U</text></svg>
<svg class="c sa" x="517" y="589.9" width="9" height="30"><rect width="100%" height="100%"/><rect class="s sr" width="9" height="100%"/></svg><svg class="c sa" x="526" y="589.9" width="7" height="30"><rect width="100%" height="100%"/></svg><svg class="c sa" x="533" y="589.9" width="7" height="30"><rect width="100%" height="100%"/></svg><svg class="c sa" x="540" y="589.9" width="7" height="30"><rect width="100%" height="100%"/></svg><svg class="c sa" x="547" y="589.9" width="6" height="30"><rect width="100%" height="100%"/></svg><svg class="c sa" x="553" y="589.9" width="6" height="30"><rect width="100%" height="100%"/></svg>
<svg class="c sa" x="517" y="589.9" width="42" height="30"><text x="0.5" y="13">SRSSSS</text></svg></g>
<g><svg class="c or" x="594" y="572.4" width="20" height="17.5"><rect width="100%" height="100%"/><text x="1" y="12.5">GA</text></svg>
<svg class="c py" x="594" y="589.9" width="10" height="30"><rect width="100%" height="100%"/></svg><svg class="c gd" x="604" y="589.9" width="4" height="30"><rect width="100%" height="100%"/></svg><svg class="c py" x="608" y="589.9" width="6" height="30"><rect width="100%" height="100%"/></svg>
<svg class="c py" x="594" y="589.9" width="20" height="30"><text x="1" y="13">R I</text></svg></g>
<g><svg class="c dg" x="709" y="572.4" width="33" height="17.5"><rect width="100%" height="100%"/><text x="1" y="12.5">E09-U</text></svg>
<svg class="c lg" x="709" y="589.9" width="7" height="30"><rect width="100%" height="100%"/></svg><svg class="c lg" x="716" y="589.9" width="7" height="30"><rect width="100%" height="100%"/></svg><svg class="c lg" x="723" y="589.9" width="7" height="30"><rect width="100%" height="100%"/></svg><svg class="c lg" x="730" y="589.9" width="6" height="30"><rect width="100%" height="100%"/></svg><svg class="c lg" x="736" y="589.9" width="6" height="30"><rect width="100%" height="100%"/></svg>
<svg class="c lg" x="709" y="589.9" width="33" height="30"><text class="sm" x="0.5" y="13">SCSSS</text></svg></g>
<g><svg class="c bb" x="789" y="572.4" width="43" height="17.5"><rect width="100%" height="100%"/><text x="1" y="12.5">C09-G L</text></svg>
<svg class="c sa" x="789" y="589.9" width="8" height="30"><rect width="100%" height="100%"/></svg><svg class="c sa" x="797" y="589.9" width="7" height="30"><rect width="100%" height="100%"/></svg><svg class="c sa" x="804" y="589.9" width="7" height="30"><rect width="100%" height="100%"/></svg><svg class="c sa" x="811" y="589.9" width="7" height="30"><rect width="100%" height="100%"/></svg><svg class="c sa" x="818" y="589.9" width="7" height="30"><rect width="100%" height="100%"/></svg><svg class="c sa" x="825" y="589.9" width="7" height="30"><rect width="100%" height="100%"/></svg>
<svg class="c sa" x="789" y="589.9" width="43" height="30"><text class="sm" x="0.5" y="13">SRSSSSS</text></svg></g>
<g><svg class="c or" x="832" y="572.4" width="48" height="17.5"><rect width="100%" height="100%"/><text x="1" y="12.5">GAMBLE</text></svg>
<svg class="c py" x="832" y="589.9" width="8" height="30"><rect width="100%" height="100%"/><rect class="s so" width="4" height="100%"/></svg><svg class="c py" x="840" y="589.9" width="6" height="30"><rect width="100%" height="100%"/></svg><svg class="c py" x="846" y="589.9" width="6" height="30"><rect width="100%" height="100%"/></svg><svg class="c py" x="852" y="589.9" width="6" height="30"><rect width="100%" height="100%"/></svg><svg class="c py" x="858" y="589.9" width="6" height="30"><rect width="100%" height="100%"/></svg><svg class="c py" x="864" y="589.9" width="6" height="30"><rect width="100%" height="100%"/></svg><svg class="c py" x="870" y="589.9" width="10" height="30"><rect width="100%" height="100%"/></svg>
<svg class="c py" x="832" y="589.9" width="48" height="30"><text x="0.5" y="13">SRSSSSS</text></svg></g>
<g><svg class="c bl" x="973" y="572.4" width="53" height="17.5"><rect width="100%" height="100%"/><text x="1" y="12.5">D08-O U</text></svg>
<svg class="c lb" x="973" y="589.9" width="8" height="30"><rect width="100%" height="100%"/></svg><svg class="c lb" x="981" y="589.9" width="7" height="30"><rect width="100%" height="100%"/></svg><svg class="c lb" x="988" y="589.9" width="7" height="30"><rect width="100%" height="100%"/></svg><svg class="c lb" x="995" y="589.9" width="7" height="30"><rect width="100%" height="100%"/></svg><svg class="c lb" x="1002" y="589.9" width="7" height="30"><rect width="100%" height="100%"/></svg><svg class="c lb" x="1009" y="589.9" width="7" height="30"><rect width="100%" height="100%"/></svg><svg class="c lb" x="1016" y="589.9" width="10" height="30"><rect width="100%" height="100%"/></svg>
<svg class="c lb" x="973" y="589.9" width="53" height="30"><text x="0.5" y="13">COICICI</text></svg></g>
<g><svg class="c dg" x="1083" y="572.4" width="53" height="17.5"><rect width="100%" height="100%"/><text x="1" y="12.5">D08-U U</text></svg>
<svg class="c lg" x="1083" y="589.9" width="8" height="30"><rect width="100%" height="100%"/></svg><svg class="c lg" x="1091" y="589.9" width="7" height="30"><rect width="100%" height="100%"/></svg><svg class="c lg" x="1098" y="589.9" width="7" height="30"><rect width="100%" height="100%"/></svg><svg class="c lg" x="1105" y="589.9" width="7" height="30"><rect width="100%" height="100%"/></svg><svg class="c lg" x="1112" y="589.9" width="7" height="30"><rect width="100%" height="100%"/></svg><svg class="c lg" x="1119" y="589.9" width="7" height="30"><rect width="100%" height="100%"/></svg><svg class="c lg" x="1126" y="589.9" width="10" height="30"><rect width="100%" height="100%"/></svg>
<svg class="c lg" x="1083" y="589.9" width="53" height="30"><text x="0.5" y="13">COICICICI</text></svg></g>
<g><svg class="c dg" x="1234" y="572.4" width="43" height="17.5"><rect width="100%" height="100%"/><text x="1" y="12.5">E08-L U</text></svg>
<svg class="c lg" x="1234" y="589.9" width="8" height="30"><rect width="100%" height="100%"/></svg><svg class="c lg" x="1242" y="589.9" width="7" height="30"><rect width="100%" height="100%"/></svg><svg class="c lg" x="1249" y="589.9" width="7" height="30"><rect width="100%" height="100%"/></svg><svg class="c lg" x="1256" y="589.9" width="7" height="30"><rect width="100%" height="100%"/></svg><svg class="c lg" x="1263" y="589.9" width="7" height="30"><rect width="100%" height="100%"/></svg><svg class="c lg" x="1270" y="589.9" width="7" height="30"><rect width="100%" height="100%"/></svg>
<svg class="c lg" x="1234" y="589.9" width="43" height="30"><text x="0.5" y="13">CCCCCC</text></svg></g>
<g><svg class="c bb" x="1295" y="572.4" width="48" height="17.5"><rect width="100%" height="100%"/><text x="1" y="12.5">DCNR 00</text></svg>
<svg class="c gd" x="1295" y="589.9" width="10" height="30"><rect width="100%" height="100%"/></svg><svg class="c gd" x="1305" y="589.9" width="6" height="30"><rect width="100%" height="100%"/></svg><svg class="c gd" x="1311" y="589.9" width="6" height="30"><rect width="100%" height="100%"/></svg><svg class="c gd" x="1317" y="589.9" width="6" height="30"><rect width="100%" height="100%"/></svg><svg class="c gd" x="1323" y="589.9" width="6" height="30"><rect width="100%" height="100%"/></svg><svg class="c gd" x="1329" y="589.9" width="6" height="30"><rect width="100%" height="100%"/></svg><svg class="c gd" x="1335" y="589.9" width="8" height="30"><rect width="100%" height="100%"/></svg>
<svg class="c gd" x="1295" y="589.9" width="48" height="30"><text class="sm" x="0.5" y="13">DCIEEEEE</text></svg></g>
<g><svg class="c dg" x="1383" y="572.4" width="36" height="17.5"><rect width="100%" height="100%"/><text x="0.5" y="12.5">E09-E U</text></svg>
<svg class="c lg" x="1383" y="589.9" width="7" height="30"><rect width="100%" height="100%"/></svg><svg class="c lg" x="1390" y="589.9" width="7" height="30"><rect width="100%" height="100%"/></svg><svg class="c lg" x="1397" y="589.9" width="7" height="30"><rect width="100%" height="100%"/></svg><svg class="c lg" x="1404" y="589.9" width="7" height="30"><rect width="100%" height="100%"/></svg><svg class="c lg" x="1411" y="589.9" width="8" height="30"><rect width="100%" height="100%"/></svg>
<svg class="c lg" x="1383" y="589.9" width="36" height="30"><text x="0.5" y="13">CCCCC</text></svg></g>
<g><svg class="c bb" x="1498" y="572.4" width="45" height="17.5"><rect width="100%" height="100%"/><text x="1" y="12.5">C08-G U</text></svg>
<svg class="c sa" x="1498" y="589.9" width="9" height="30"><rect width="100%" height="100%"/></svg><svg class="c sa" x="1507" y="589.9" width="9" height="30"><rect width="100%" height="100%"/></svg><svg class="c sa" x="1516" y="589.9" width="9" height="30"><rect width="100%" height="100%"/></svg><svg class="c sa" x="1525" y="589.9" width="9" height="30"><rect width="100%" height="100%"/></svg><svg class="c sa" x="1534" y="589.9" width="9" height="30"><rect width="100%" height="100%"/></svg>
<svg class="c sa" x="1498" y="589.9" width="45" height="30"><text class="sm" x="0.3" y="13">SFSFSFSF</text></svg></g>
<g><svg class="c or" x="1683" y="572.4" width="45" height="17.5"><rect width="100%" height="100%"/><text x="1" y="12.5">GAMBLE</text></svg>
<svg class="c py" x="1683" y="589.9" width="9" height="30"><rect width="100%" height="100%"/><rect class="s so" width="4" height="100%"/></svg><svg class="c py" x="1692" y="589.9" width="7" height="30"><rect width="100%" height="100%"/></svg><svg class="c py" x="1699" y="589.9" width="7" height="30"><rect width="100%" height="100%"/></svg><svg class="c py" x="1706" y="589.9" width="7" height="30"><rect width="100%" height="100%"/></svg><svg class="c py" x="1713" y="589.9" width="7" height="30"><rect width="100%" height="100%"/></svg><svg class="c py" x="1720" y="589.9" width="8" height="30"><rect width="100%" height="100%"/></svg>
<svg class="c py" x="1683" y="589.9" width="45" height="30"><text x="0.5" y="13">SPSSSS</text></svg></g>
<g><svg class="c dg" x="1749" y="572.4" width="48" height="17.5"><rect width="100%" height="100%"/><text x="1" y="12.5">F10-F2</text></svg>
<svg class="c lg" x="1749" y="589.9" width="8" height="30"><rect width="100%" height="100%"/><rect class="s sg" width="8" height="100%"/></svg><svg class="c lg" x="1757" y="589.9" width="8" height="30"><rect width="100%" height="100%"/></svg><svg class="c lg" x="1765" y="589.9" width="8" height="30"><rect width="100%" height="100%"/></svg><svg class="c lg" x="1773" y="589.9" width="8" height="30"><rect width="100%" height="100%"/></svg><svg class="c lg" x="1781" y="589.9" width="8" height="30"><rect width="100%" height="100%"/></svg><svg class="c lg" x="1789" y="589.9" width="8" height="30"><rect width="100%" height="100%"/></svg>
<svg class="c lg" x="1749" y="589.9" width="48" height="30"><text x="0.5" y="13">SGS</text></svg></g>
<g><svg class="c or" x="1824" y="572.4" width="39" height="17.5"><rect width="100%" height="100%"/><text x="1" y="12.5">GAMBL</text></svg>
<svg class="c py" x="1824" y="589.9" width="10" height="30"><rect width="100%" height="100%"/><rect class="s so" width="4" height="100%"/></svg><svg class="c py" x="1834" y="589.9" width="7" height="30"><rect width="100%" height="100%"/></svg><svg class="c py" x="1841" y="589.9" width="7" height="30"><rect width="100%" height="100%"/></svg><svg class="c py" x="1848" y="589.9" width="7" height="30"><rect width="100%" height="100%"/></svg><svg class="c py" x="1855" y="589.9" width="8" height="30"><rect width="100%" height="100%"/></svg>
<svg class="c py" x="1824" y="589.9" width="39" height="30"><text x="0.5" y="13">BABBB</text></svg></g>
<g><svg class="c bb" x="1908" y="572.4" width="10" height="17.5"><rect width="100%" height="100%"/><text x="1" y="12.5">C</text></svg><svg class="c sa" x="1908" y="589.9" width="10" height="30"><rect width="100%" height="100%"/><rect class="s sr" width="10" height="100%"/></svg></g>
</g>

<g id="drill-out-2">
<g><svg class="c or" x="249" y="628" width="30" height="17.5"><rect width="100%" height="100%"/><text x="1" y="12.5">DCNR</text></svg><svg class="c py" x="249" y="645.5" width="15" height="30"><rect width="100%" height="100%"/></svg><svg class="c py" x="264" y="645.5" width="15" height="30"><rect width="100%" height="100%"/></svg><svg class="c py" x="249" y="645.5" width="30" height="30"><text x="0.5" y="13">DCDC</text></svg></g>
<g><svg class="c dg" x="868.5" y="628" width="29.5" height="17.5"><rect width="100%" height="100%"/><text x="1" y="12.5">E09-T</text></svg><svg class="c lg" x="868.5" y="645.5" width="29.5" height="30"><rect width="100%" height="100%"/></svg></g>
<g><svg class="c cy" x="1401" y="628" width="20" height="17.5"><rect width="100%" height="100%"/><text x="1" y="12.5">F14</text></svg><svg class="c dk" x="1401" y="645.5" width="20" height="30"><rect width="100%" height="100%"/></svg></g>
</g>

<g id="drill-out-3">
<g><svg class="c bl" x="245" y="683.6" width="65" height="17.5"><rect width="100%" height="100%"/><text x="1" y="12.5">D09-D U</text></svg>
<svg class="c lb" x="245" y="701.1" width="24" height="30"><rect width="100%" height="100%"/><rect class="s sb" width="6" height="100%"/></svg><svg class="c lb" x="269" y="701.1" width="12" height="30"><rect width="100%" height="100%"/></svg><svg class="c lb" x="281" y="701.1" width="12" height="30"><rect width="100%" height="100%"/></svg><svg class="c lb" x="293" y="701.1" width="17" height="30"><rect width="100%" height="100%"/></svg>
<svg class="c lb" x="245" y="701.1" width="65" height="30"><text x="1" y="13">SRC SRSRSR</text></svg></g>
</g>

<g id="flowback-1">
<path d="M293 740V787M299 740V787" stroke="#a3a3a3" stroke-width="1.5"/>
<path d="M327 740V787" stroke="#5a5af0" stroke-width="1.5"/>
<path d="M415.5 740V787" stroke="#8ab88a" stroke-width="1.5"/>
<path d="M522.5 740V787" stroke="#d8d2a0" stroke-width="1.5"/>
<g><svg class="c bb" x="580.5" y="739.2" width="27.5" height="17.5"><rect width="100%" height="100%"/><text x="1" y="12.5">C08-</text></svg><svg class="c sa" x="580.5" y="756.7" width="27.5" height="30"><rect width="100%" height="100%"/><text x="1" y="13">SRC</text></svg></g>
<rect x="655" y="756.7" width="27" height="30" fill="#efe6a6"/>
<rect x="773" y="756.7" width="27" height="30" fill="#93df90"/>
<rect x="896" y="756.7" width="27" height="30" fill="#f4786b"/>
<rect x="941" y="756.7" width="28" height="30" fill="#93df90"/>
<rect x="1057" y="756.7" width="28" height="30" fill="#92ccf1"/>
<rect x="1176" y="756.7" width="28" height="30" fill="#93df90"/>
<rect x="1317" y="756.7" width="28" height="30" fill="#93df90"/>
<rect x="1389" y="756.7" width="27.5" height="30" fill="#b9b9b9"/>
<rect x="1452" y="756.7" width="28" height="30" fill="#93df90"/>
<rect x="1574" y="756.7" width="27" height="30" fill="#f4786b"/>
<g><svg class="c or" x="1761" y="739.2" width="27" height="17.5"><rect width="100%" height="100%"/><text x="1" y="12.5">GAM</text></svg><svg class="c py" x="1761" y="756.7" width="27" height="30"><rect width="100%" height="100%"/><text x="0.5" y="13">SPRA</text></svg></g>
<g><svg class="c dg" x="1836" y="739.2" width="27" height="17.5"><rect width="100%" height="100%"/><text x="0.5" y="12.5">F10-F</text></svg><svg class="c lg" x="1836" y="756.7" width="27" height="30"><rect width="100%" height="100%"/><text class="sm" x="0.5" y="13">SGL 2</text></svg></g>
<g><svg class="c or" x="1893" y="739.2" width="25" height="17.5"><rect width="100%" height="100%"/><text x="1" y="12.5">GAM</text></svg><svg class="c py" x="1893" y="756.7" width="25" height="30"><rect width="100%" height="100%"/><text x="1" y="13">BARI</text></svg></g>
</g>

<g id="flowback-2">
<g><svg class="c dg" x="415.5" y="794.8" width="18.5" height="17.5"><rect width="100%" height="100%"/><text x="0.5" y="12.5">E09</text></svg><svg class="c lg" x="415.5" y="812.3" width="18.5" height="30"><rect width="100%" height="100%"/><text x="0.5" y="13">COI</text></svg></g>
<g><svg class="c or" x="958.5" y="794.8" width="27" height="17.5"><rect width="100%" height="100%"/><text x="1" y="12.5">GAM</text></svg><svg class="c py" x="958.5" y="812.3" width="27" height="30"><rect width="100%" height="100%"/><text x="0.5" y="13">SRC (</text></svg></g>
<g><svg class="c cy" x="1453" y="794.8" width="27" height="17.5"><rect width="100%" height="100%"/><text x="1" y="12.5">F14-(</text></svg><svg class="c dk" x="1453" y="812.3" width="27" height="30"><rect width="100%" height="100%"/><text x="1" y="13">COP</text></svg></g>
</g>

<g id="flowback-3"></g>

<g id="connectors"></g>

<path id="today-line" d="M714.5 72V895" stroke="#3fd8e6" stroke-width="2"/>

<g id="callout">
<rect x="618" y="647.5" width="1068" height="131.5" rx="22" fill="#5b9bd5" stroke="#41719c" stroke-width="1.5"/>
<text x="1150" y="698" font-size="34" fill="#fff" text-anchor="middle" textLength="960" lengthAdjust="spacing">(T-O-U-L-E) frac order mitigates frac hits and optimizes field</text>
<text x="1143" y="747" font-size="34" fill="#fff" text-anchor="middle" textLength="716" lengthAdjust="spacing">development order for operations and safety</text>
<path d="M872 706l2-2 2 2 2-2 2 2 2-2 2 2 2-2 2 2 2-2 2 2 2-2 2 2 2-2 2 2 2-2 2 2 2-2 2 2 2-2 2 2 2-2 2 2 2-2 2 2 2-2 2 2 2-2 2 2 2-2 2 2" fill="none" stroke="#e02424" stroke-width="1"/>
<path d="M1193 706l2-2 2 2 2-2 2 2 2-2 2 2 2-2 2 2 2-2 2 2 2-2 2 2 2-2 2 2 2-2 2 2 2-2 2 2 2-2 2 2 2-2 2 2 2-2 2 2 2-2 2 2 2-2 2 2 2-2 2 2" fill="none" stroke="#e02424" stroke-width="1"/>
</g>
</svg>
